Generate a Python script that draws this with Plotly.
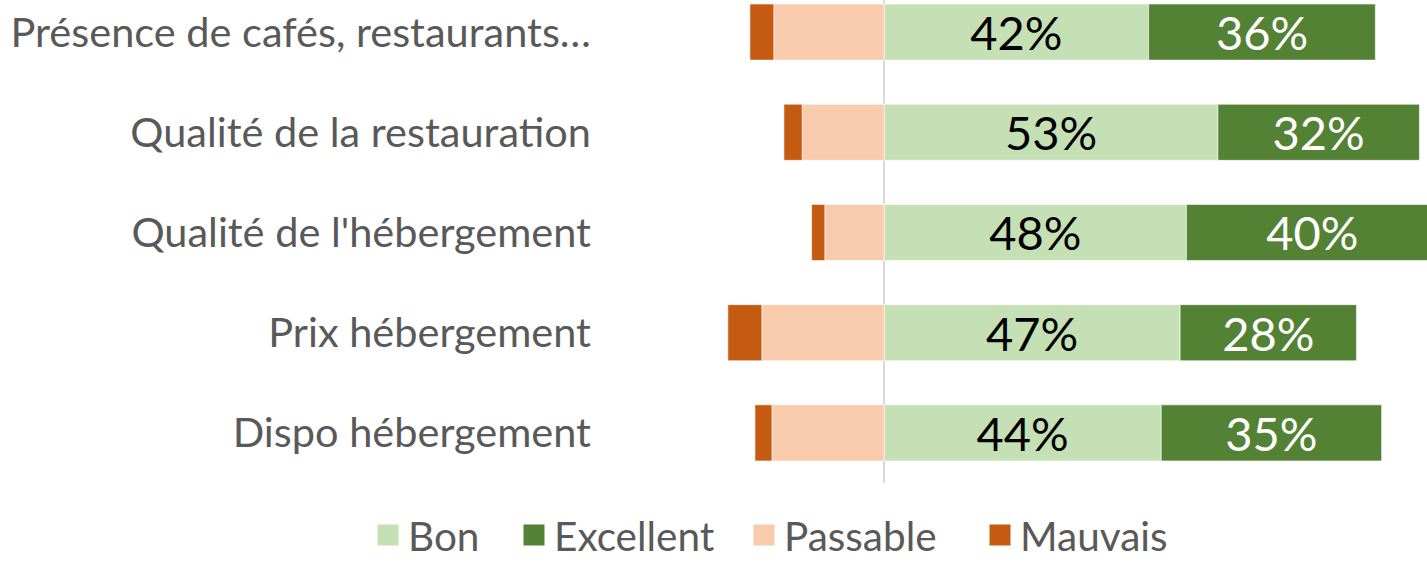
import plotly.graph_objects as go

categories = ["Présence de cafés, restaurants…", "Qualité de la restauration",
              "Qualité de l'hébergement", "Prix hébergement", "Dispo hébergement"]
bon = [42, 53, 48, 47, 44]
excellent = [36, 32, 40, 28, 35]
passable = [17.5, 13, 9.4, 19.4, 17.8]
mauvais = [3.8, 2.9, 2.1, 5.4, 2.7]

colors = {"Bon": "#C5E0B4", "Excellent": "#548235", "Passable": "#F8CBAD", "Mauvais": "#C55A11"}
FONT = "Lato"

fig = go.Figure()
series = [("Bon", bon, 1, "black"), ("Excellent", excellent, 1, "white"),
          ("Passable", passable, -1, None), ("Mauvais", mauvais, -1, None)]
legend_ids = ["legend", "legend2", "legend3", "legend4"]
for (name, vals, sign, tcol), lid in zip(series, legend_ids):
    fig.add_trace(go.Bar(
        y=categories, x=[sign * v for v in vals], orientation="h", name=name,
        marker=dict(color=colors[name], line=dict(color="rgba(255,255,255,0.6)", width=1)),
        text=[f"{v}%" for v in vals] if tcol else None,
        textposition="inside" if tcol else "none",
        insidetextanchor="middle", constraintext="none",
        textfont=dict(family=FONT, size=47, color=tcol or "black"),
        showlegend=False, hoverinfo="skip",
    ))
    fig.add_trace(go.Scatter(
        x=[None], y=[None], mode="markers", name=name, legend=lid,
        marker=dict(symbol="square", size=16, color=colors[name],
                    line=dict(color=colors[name], width=5)),
        showlegend=True,
    ))

legend_common = dict(orientation="h", xanchor="left", y=-0.108, yanchor="middle",
                     font=dict(family=FONT, size=40.5, color="#595959"),
                     itemsizing="trace", bgcolor="rgba(0,0,0,0)")
legend_x = [-0.2805, -0.104, 0.1741, 0.4595]

fig.update_layout(
    barmode="relative", bargap=0.44,
    width=1427, height=563,
    margin=dict(l=600, r=0, t=0, b=80, autoexpand=False),
    paper_bgcolor="white", plot_bgcolor="white",
    font=dict(family=FONT, color="#595959", size=41),
    xaxis=dict(range=[-45.1, 86.2], showgrid=False, zeroline=True, zerolinecolor="#D9D9D9",
               zerolinewidth=2, showticklabels=False, ticks="", automargin=False),
    yaxis=dict(categoryorder="array", categoryarray=categories, range=[4.5, -0.32],
               showgrid=False, zeroline=False, ticks="", ticklabelstandoff=8, automargin=False,
               tickfont=dict(family=FONT, size=41.5, color="#595959")),
    legend=dict(x=legend_x[0], **legend_common),
    legend2=dict(x=legend_x[1], **legend_common),
    legend3=dict(x=legend_x[2], **legend_common),
    legend4=dict(x=legend_x[3], **legend_common),
)

fig.write_html("out.html", config={"displayModeBar": False},
               post_script="document.body.style.margin='0';")
